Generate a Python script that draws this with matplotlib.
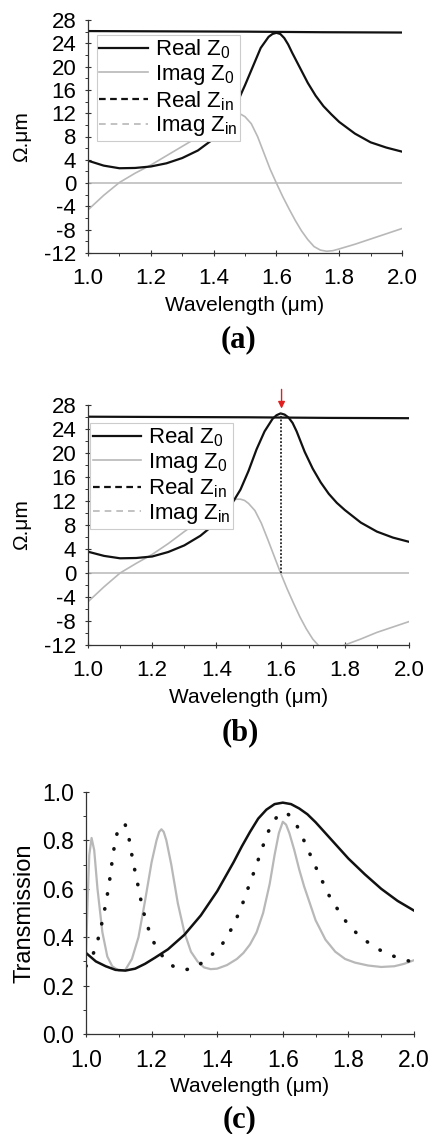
import matplotlib.pyplot as plt
from matplotlib.lines import Line2D
from matplotlib.ticker import MultipleLocator

plt.rcParams['font.family'] = ['Liberation Sans', 'DejaVu Sans']
plt.rcParams['mathtext.fontset'] = 'custom'
plt.rcParams['mathtext.rm'] = 'Liberation Sans'
plt.rcParams['mathtext.it'] = 'Liberation Sans'
plt.rcParams['axes.unicode_minus'] = False

GRAY = '#b8b8b8'
BLACK = '#111111'

# ---------------- panel (a) data ----------------
wl_a_real = [1.00, 1.05, 1.10, 1.15, 1.20, 1.25, 1.30, 1.35, 1.40, 1.425, 1.45, 1.475,
             1.50, 1.525, 1.55, 1.575, 1.5875, 1.60, 1.6125, 1.625, 1.6375, 1.65, 1.675,
             1.70, 1.725, 1.75, 1.775, 1.80, 1.85, 1.90, 1.95, 2.00]
real_z0_a = [3.85, 3.0, 2.55, 2.6, 2.85, 3.4, 4.3, 5.6, 7.6, 9.2, 11.2, 13.8,
             16.8, 20.0, 23.2, 25.1, 25.6, 25.8, 25.6, 24.9, 23.8, 22.4, 19.8,
             17.2, 15.0, 13.2, 11.8, 10.5, 8.5, 7.0, 6.1, 5.4]
wl_a_imag = [1.00, 1.05, 1.10, 1.15, 1.20, 1.25, 1.30, 1.35, 1.40, 1.45, 1.4625, 1.475,
             1.4875, 1.50, 1.52, 1.54, 1.56, 1.58, 1.60, 1.62, 1.64, 1.66, 1.68, 1.70,
             1.72, 1.74, 1.76, 1.78, 1.80, 1.85, 1.90, 1.95, 2.00]
imag_z0_a = [-4.6, -2.1, 0.1, 1.7, 3.1, 4.7, 6.3, 7.9, 9.5, 11.3, 11.7, 11.9,
             11.8, 11.4, 10.2, 8.0, 5.2, 2.4, 0.0, -2.3, -4.4, -6.4, -8.2, -9.7,
             -10.9, -11.5, -11.7, -11.6, -11.3, -10.5, -9.6, -8.7, -7.8]
wl_zin = [1.00, 1.25, 1.50, 1.75, 2.00]
real_zin_a = [26.1, 26.05, 26.0, 25.9, 25.85]
imag_zin_a = [0.0, 0.0, 0.0, 0.0, 0.0]

# ---------------- panel (b) data ----------------
wl_b_real = [1.00, 1.05, 1.10, 1.15, 1.20, 1.25, 1.30, 1.35, 1.40, 1.425, 1.45, 1.475,
             1.50, 1.525, 1.55, 1.575, 1.5875, 1.60, 1.6125, 1.625, 1.6375, 1.65, 1.675,
             1.70, 1.725, 1.75, 1.775, 1.80, 1.85, 1.90, 1.95, 2.00]
real_z0_b = [3.55, 2.85, 2.45, 2.5, 2.75, 3.5, 4.6, 6.2, 8.4, 9.9, 11.7, 13.9,
             17.0, 20.6, 23.6, 25.7, 26.3, 26.6, 26.4, 25.9, 25.0, 23.6, 20.2,
             17.4, 15.1, 13.2, 11.7, 10.5, 8.4, 6.9, 5.9, 5.2]
wl_b_imag = [1.00, 1.05, 1.10, 1.15, 1.20, 1.25, 1.30, 1.35, 1.40, 1.45, 1.4625, 1.475,
             1.4875, 1.50, 1.52, 1.54, 1.56, 1.58, 1.60, 1.62, 1.64, 1.66, 1.68, 1.70,
             1.72, 1.74, 1.76, 1.78, 1.80, 1.85, 1.90, 1.95, 2.00]
imag_z0_b = [-4.8, -2.3, 0.0, 1.6, 3.1, 4.9, 6.9, 8.8, 10.6, 12.1, 12.3, 12.3,
             12.1, 11.6, 10.4, 8.3, 5.6, 2.8, 0.0, -2.6, -5.0, -7.3, -9.3, -11.0,
             -12.2, -12.7, -12.8, -12.5, -12.0, -11.0, -9.9, -9.0, -8.1]
real_zin_b = [26.05, 26.0, 25.95, 25.85, 25.8]
imag_zin_b = [0.0, 0.0, 0.0, 0.0, 0.0]
peak_wl = 1.60
peak_val = 26.6

# ---------------- panel (c) data ----------------
wl_c_black = [1.00, 1.03, 1.06, 1.09, 1.12, 1.15, 1.18, 1.21, 1.25, 1.30, 1.35,
              1.40, 1.45, 1.475, 1.50, 1.525, 1.55, 1.575, 1.60, 1.625, 1.65, 1.675,
              1.70, 1.75, 1.80, 1.85, 1.90, 1.95, 2.00]
trans_black = [0.335, 0.30, 0.28, 0.265, 0.262, 0.27, 0.29, 0.315, 0.35, 0.41, 0.49,
               0.59, 0.71, 0.775, 0.835, 0.89, 0.927, 0.95, 0.956, 0.95, 0.932, 0.908,
               0.875, 0.80, 0.725, 0.66, 0.60, 0.55, 0.51]
wl_c_gray = [1.000, 1.005, 1.010, 1.017, 1.025, 1.035, 1.050, 1.065, 1.080, 1.10,
             1.12, 1.14, 1.16, 1.18, 1.20, 1.215, 1.223, 1.23, 1.237, 1.245, 1.26,
             1.28, 1.30, 1.32, 1.34, 1.36, 1.38, 1.40, 1.43, 1.46, 1.48, 1.50, 1.52,
             1.54, 1.56, 1.575, 1.588, 1.60, 1.61, 1.62, 1.635, 1.65, 1.665, 1.68,
             1.70, 1.73, 1.76, 1.79, 1.82, 1.86, 1.90, 1.94, 1.97, 2.00]
trans_gray = [0.33, 0.55, 0.74, 0.81, 0.76, 0.60, 0.42, 0.32, 0.28, 0.262,
              0.265, 0.31, 0.40, 0.55, 0.71, 0.80, 0.835, 0.846, 0.835, 0.80, 0.70,
              0.54, 0.42, 0.34, 0.30, 0.275, 0.268, 0.27, 0.285, 0.31, 0.335, 0.37, 0.42,
              0.50, 0.62, 0.74, 0.83, 0.877, 0.865, 0.83, 0.76, 0.68, 0.61, 0.55,
              0.47, 0.39, 0.34, 0.31, 0.295, 0.283, 0.277, 0.28, 0.29, 0.305]
wl_c_dot = [1.00, 1.01, 1.022, 1.036, 1.046, 1.055, 1.063, 1.070, 1.076, 1.081, 1.088,
            1.097, 1.108, 1.119, 1.131, 1.138, 1.146, 1.155, 1.163, 1.172, 1.183,
            1.197, 1.215, 1.24, 1.27, 1.30, 1.33, 1.373, 1.414, 1.439, 1.459, 1.477,
            1.492, 1.507, 1.522, 1.551, 1.571, 1.590, 1.609, 1.625, 1.642, 1.663,
            1.681, 1.700, 1.719, 1.739, 1.764, 1.793, 1.830, 1.874, 1.917, 1.957, 2.00]
trans_dot = [0.28, 0.30, 0.331, 0.388, 0.443, 0.501, 0.559, 0.616, 0.674, 0.730, 0.788,
             0.843, 0.862, 0.868, 0.809, 0.753, 0.694, 0.639, 0.581, 0.524, 0.464,
             0.409, 0.354, 0.31, 0.275, 0.265, 0.272, 0.313, 0.368, 0.423, 0.478, 0.537,
             0.595, 0.650, 0.708, 0.822, 0.880, 0.908, 0.916, 0.898, 0.864, 0.804,
             0.749, 0.691, 0.636, 0.577, 0.522, 0.464, 0.409, 0.364, 0.331, 0.313, 0.295]

legend_labels = ['Real Z$\\mathregular{_0}$', 'Imag Z$\\mathregular{_0}$',
                 'Real Z$\\mathregular{_{in}}$', 'Imag Z$\\mathregular{_{in}}$']

W, H = 432, 1134
fig = plt.figure(figsize=(W / 100, H / 100), dpi=100)


def px_axes(left, top, right, bottom):
    return fig.add_axes([left / W, 1 - bottom / H, (right - left) / W, (bottom - top) / H])


def style_axes(ax, tick_size):
    for s in ['top', 'right']:
        ax.spines[s].set_visible(False)
    for s in ['left', 'bottom']:
        ax.spines[s].set_color('#333333')
        ax.spines[s].set_linewidth(0.9)
    ax.tick_params(which='major', direction='inout', length=5, width=0.8,
                   color='#333333', labelsize=tick_size)
    ax.tick_params(axis='x', which='major', pad=8)
    ax.tick_params(axis='y', which='major', pad=6)
    ax.tick_params(which='minor', direction='out', length=2, width=0.7, color='#333333')
    ax.set_xlim(1.0, 2.0)
    ax.xaxis.set_minor_locator(MultipleLocator(0.1))
    ax.set_xticks([1.0, 1.2, 1.4, 1.6, 1.8, 2.0])
    ax.set_xticklabels(['1.0', '1.2', '1.4', '1.6', '1.8', '2.0'])


def impedance_panel(ax, wl_r, re0, wl_i, im0, re_in, im_in):
    ax.plot(wl_zin, im_in, color=GRAY, lw=1.1)
    ax.plot(wl_zin, re_in, color=BLACK, lw=1.6)
    ax.plot(wl_i, im0, color=GRAY, lw=1.2)
    ax.plot(wl_r, re0, color=BLACK, lw=1.6)
    ax.set_ylim(-12, 28)
    ax.set_yticks(range(-12, 29, 4))
    ax.yaxis.set_minor_locator(MultipleLocator(2))
    ax.set_ylabel('Ω.μm', fontsize=15, labelpad=9)
    ax.set_xlabel('Wavelength (μm)', fontsize=15, labelpad=5)
    # legend shows the Zin curves as dashed, as in the original figure
    handles = [Line2D([], [], color=BLACK, lw=1.6),
               Line2D([], [], color=GRAY, lw=1.2),
               Line2D([], [], color=BLACK, lw=1.6, ls=(0, (3, 2))),
               Line2D([], [], color=GRAY, lw=1.2, ls=(0, (4, 3)))]
    return handles


def add_legend(ax, handles, anchor):
    leg = ax.legend(handles, legend_labels, loc='upper left', bbox_to_anchor=anchor,
                    borderaxespad=0, fontsize=16, frameon=True, fancybox=False,
                    framealpha=1, edgecolor='#cccccc', handlelength=2.2,
                    handletextpad=0.3, labelspacing=0.08, borderpad=0.12)
    leg.get_frame().set_linewidth(0.8)
    return leg


# (a)
ax_a = px_axes(88, 20, 402, 253)
style_axes(ax_a, 16)
h = impedance_panel(ax_a, wl_a_real, real_z0_a, wl_a_imag, imag_z0_a, real_zin_a, imag_zin_a)
add_legend(ax_a, h, (0.028, 0.935))
fig.text(238 / W, 1 - 340 / H, '(a)', ha='center', va='center', fontsize=22,
         fontweight='bold', family='Liberation Serif')

# (b)
ax_b = px_axes(88, 405, 409, 645)
style_axes(ax_b, 16)
h = impedance_panel(ax_b, wl_b_real, real_z0_b, wl_b_imag, imag_z0_b, real_zin_b, imag_zin_b)
ax_b.plot([peak_wl, peak_wl], [0, peak_val], color='#222222', lw=1.3, ls=(0, (1, 1)))
ax_b.annotate('', xy=(peak_wl + 0.003, 27.4), xytext=(peak_wl + 0.003, 30.6),
              arrowprops=dict(arrowstyle='-|>', color='#e02020', lw=1.0,
                              mutation_scale=10, shrinkA=0, shrinkB=0),
              annotation_clip=False)
add_legend(ax_b, h, (0.006, 0.925))
fig.text(240 / W, 1 - 733 / H, '(b)', ha='center', va='center', fontsize=22,
         fontweight='bold', family='Liberation Serif')

# (c)
ax_c = px_axes(86, 792, 414, 1034)
style_axes(ax_c, 16.5)
ax_c.plot(wl_c_gray, trans_gray, color=GRAY, lw=1.6)
ax_c.plot(wl_c_dot, trans_dot, color=BLACK, lw=2.6, ls=(0, (0.1, 4.1)),
          dash_capstyle='round')
ax_c.plot(wl_c_black, trans_black, color=BLACK, lw=1.8)
ax_c.set_ylim(0, 1.0)
ax_c.set_yticks([0.0, 0.2, 0.4, 0.6, 0.8, 1.0])
ax_c.set_yticklabels(['0.0', '0.2', '0.4', '0.6', '0.8', '1.0'])
ax_c.yaxis.set_minor_locator(MultipleLocator(0.1))
ax_c.set_ylabel('Transmission', fontsize=17, labelpad=5)
ax_c.set_xlabel('Wavelength (μm)', fontsize=15, labelpad=4)
fig.text(240 / W, 1 - 1120 / H, '(c)', ha='center', va='center', fontsize=22,
         fontweight='bold', family='Liberation Serif')

fig.savefig('out.png', dpi=100)
